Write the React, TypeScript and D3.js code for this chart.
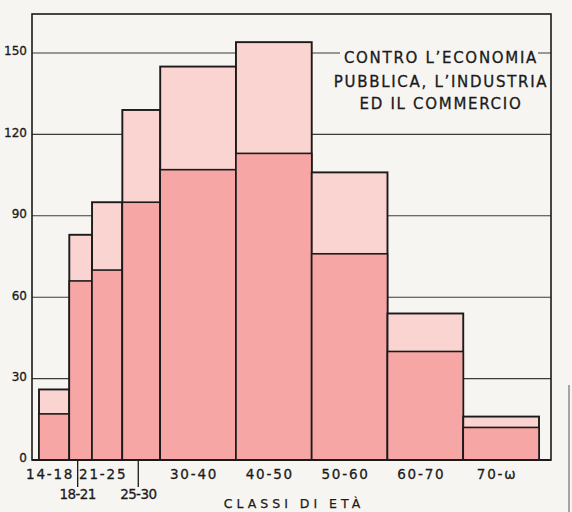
import React from "react";
import * as d3 from "d3";

// Age classes (histogram bins, widths proportional to class span)
const classes = ["14-18", "18-21", "21-25", "25-30", "30-40", "40-50", "50-60", "60-70", "70-ω"];
const classStart = [14, 18, 21, 25, 30, 40, 50, 60, 70];
const classEnd = [18, 21, 25, 30, 40, 50, 60, 70, 80];
// total height (light pink) and lower portion (dark pink)
const totals = [26, 83, 95, 129, 145, 154, 106, 54, 16];
const lower = [17, 66, 70, 95, 107, 113, 76, 40, 12];
// labels placed on the second row (narrow classes)
const secondRow = ["18-21", "25-30"];
const yTicks = [0, 30, 60, 90, 120, 150];
const titleLines = ["CONTRO L’ECONOMIA", "PUBBLICA, L’INDUSTRIA", "ED IL COMMERCIO"];
const xTitle = "CLASSI DI ETÀ";

const W = 572;
const H = 512;
const BG = "#f6f5f2";
const LIGHT = "#f9d4d0";
const DARK = "#f6a7a5";
const INK = "#1c1a1a";
const FONT = "'DejaVu Sans', sans-serif";

export default function App() {
  const frame = { left: 32, right: 551, top: 14, bottom: 460 };
  const x = d3.scaleLinear().domain([14, 80]).range([39, 539]);
  const y = d3.scaleLinear().domain([0, 150]).range([460, 53]);

  const bars = classes.map((c, i) => ({
    c,
    x0: x(classStart[i]),
    x1: x(classEnd[i]),
    total: totals[i],
    low: lower[i],
  }));

  const titleCx = 441;
  const titleBase = [63, 87, 109];

  return (
    <svg
      width={W}
      height={H}
      viewBox={`0 0 ${W} ${H}`}
      style={{ position: "absolute", left: 0, top: 0, background: BG }}
    >
      <rect x={0} y={0} width={W} height={H} fill={BG} />

      {/* grid lines */}
      {yTicks.filter((t) => t > 0).map((t) => (
        <line
          key={"g" + t}
          x1={frame.left}
          x2={frame.right}
          y1={y(t)}
          y2={y(t)}
          stroke="#3b3b3b"
          strokeWidth={1.1}
        />
      ))}

      {/* frame */}
      <rect
        x={frame.left}
        y={frame.top}
        width={frame.right - frame.left}
        height={frame.bottom - frame.top}
        fill="none"
        stroke={INK}
        strokeWidth={1.6}
      />

      {/* bars */}
      {bars.map((b) => (
        <g key={b.c}>
          <rect
            x={b.x0}
            y={y(b.total)}
            width={b.x1 - b.x0}
            height={y(0) - y(b.total)}
            fill={LIGHT}
            stroke={INK}
            strokeWidth={1.9}
          />
          <rect
            x={b.x0}
            y={y(b.low)}
            width={b.x1 - b.x0}
            height={y(0) - y(b.low)}
            fill={DARK}
            stroke={INK}
            strokeWidth={1.6}
          />
        </g>
      ))}

      {/* baseline */}
      <line x1={frame.left} x2={frame.right} y1={y(0)} y2={y(0)} stroke={INK} strokeWidth={2} />

      {/* y tick labels */}
      {yTicks.map((t) => (
        <text
          key={"t" + t}
          x={27}
          y={y(t) - 2}
          dy="0.36em"
          textAnchor="end"
          fontFamily={FONT}
          fontSize={12}
          stroke={INK}
          strokeWidth={0.3}
          fill={INK}
        >
          {t}
        </text>
      ))}

      {/* x labels */}
      {bars.map((b) => {
        const second = secondRow.includes(b.c);
        const cx = (b.x0 + b.x1) / 2;
        const lx = second ? cx - 3 : cx - 4;
        return (
          <g key={"l" + b.c}>
            {second && (
              <line x1={lx} x2={lx} y1={y(0)} y2={487} stroke={INK} strokeWidth={1.3} />
            )}
            <text
              x={lx}
              y={second ? 499 : 479}
              textAnchor="middle"
              fontFamily={FONT}
              fontSize={13.5}
              letterSpacing={second ? -0.6 : 1.8}
              stroke={INK}
              strokeWidth={0.3}
              fill={INK}
            >
              {b.c}
            </text>
          </g>
        );
      })}

      {/* axis title */}
      <text
        x={294}
        y={508}
        textAnchor="middle"
        fontFamily={FONT}
        fontSize={12.5}
        letterSpacing={4}
        stroke={INK}
        strokeWidth={0.25}
        fill={INK}
      >
        {xTitle}
      </text>

      {/* chart title box */}
      <rect x={340} y={y(150) - 6} width={198} height={12} fill={BG} />
      {titleLines.map((s, i) => (
        <text
          key={"tl" + i}
          x={titleCx}
          y={titleBase[i]}
          textAnchor="middle"
          fontFamily={FONT}
          fontSize={15}
          letterSpacing={1.7}
          stroke={INK}
          strokeWidth={0.3}
          fill={INK}
        >
          {s}
        </text>
      ))}

      {/* page edge */}
      <line x1={569} x2={569} y1={385} y2={H} stroke="#555" strokeWidth={1} />
    </svg>
  );
}
